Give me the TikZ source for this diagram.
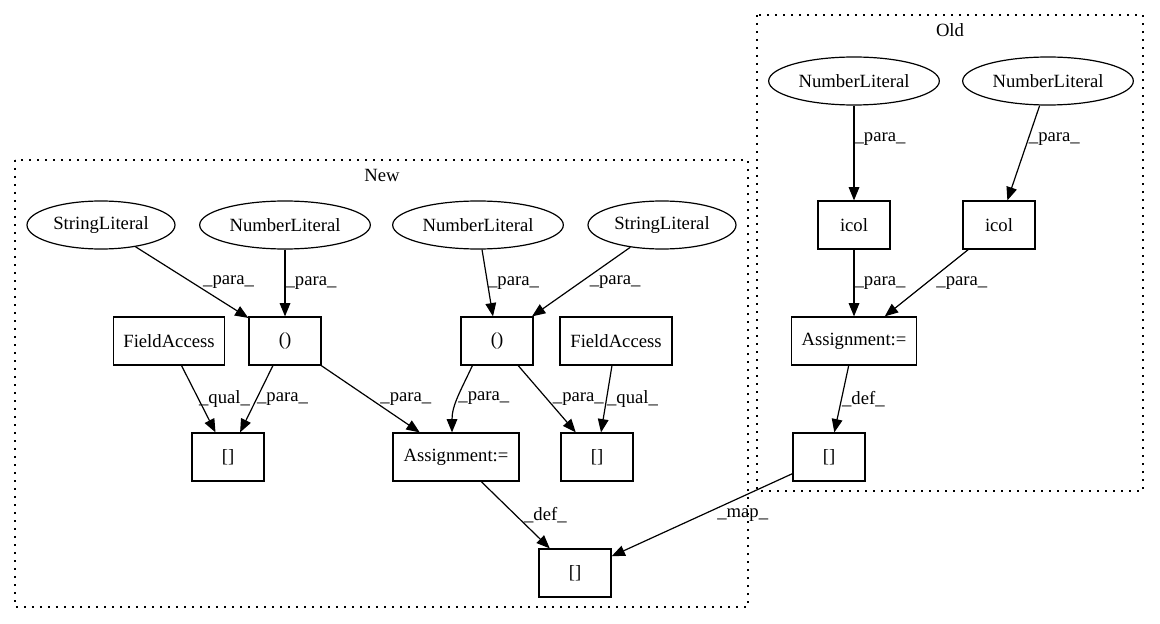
\documentclass[tikz,border=0pt]{standalone}
\usepackage{fontspec}
\setmainfont{Liberation Serif}
\usetikzlibrary{shapes.geometric,arrows.meta}

\begin{document}
\begin{tikzpicture}[x=0.75pt,y=-0.75pt,line width=0.9pt,
  font=\fontsize{14}{16}\selectfont,
  lit/.style={ellipse,draw,inner sep=0pt,minimum height=36pt},
  box/.style={rectangle,draw,inner sep=0pt,minimum height=36pt,minimum width=54pt},
  edge/.style={-{Triangle[length=10pt,width=8pt]}},
  lbl/.style={anchor=west,inner sep=0pt},
  clus/.style={dash pattern=on 1.2pt off 4.8pt}]
  \useasboundingbox (0,0) rectangle (1160,624);
  \draw[clus] (15,160) rectangle (748,607);
  \draw[clus] (757,15) rectangle (1143,491);
  \node (newlbl) at (382,175) {New};
  \node (oldlbl) at (950,30) {Old};

  \node[lit,minimum width=111pt] (sl1) at (101,225) {StringLiteral};
  \node[lit,minimum width=128pt] (nl1) at (285,225) {NumberLiteral};
  \node[lit,minimum width=128pt] (nl2) at (478,225) {NumberLiteral};
  \node[lit,minimum width=111pt] (sl2) at (662,225) {StringLiteral};
  \node[box] (call1) at (285,341) {()};
  \node[box,minimum width=83pt] (fa1) at (169,341) {FieldAccess};
  \node[box] (call2) at (497,341) {()};
  \node[box,minimum width=84pt] (fa2) at (616,341) {FieldAccess};
  \node[box] (idx1) at (228,457) {[]};
  \node[box,minimum width=94.5pt] (asgn1) at (456,457) {Assignment:=};
  \node[box] (idx2) at (597,457) {[]};
  \node[box] (idx3) at (575,573) {[]};

  \node[lit,minimum width=128pt] (nl3) at (854,81) {NumberLiteral};
  \node[lit,minimum width=128pt] (nl4) at (1048,81) {NumberLiteral};
  \node[box] (icol1) at (854,225) {icol};
  \node[box] (icol2) at (999,225) {icol};
  \node[box,minimum width=94pt] (asgn2) at (854,341) {Assignment:=};
  \node[box] (idx4) at (829,457) {[]};

  \draw[edge] (sl1) -- node[lbl,xshift=8pt] {\_para\_} (call1);
  \draw[edge] (nl1) -- node[lbl] {\_para\_} (call1);
  \draw[edge] (fa1) -- node[lbl] {\_qual\_} (idx1);
  \draw[edge] (call1) -- node[lbl] {\_para\_} (idx1);
  \draw[edge] (call1) -- node[lbl,xshift=7pt] {\_para\_} (asgn1);
  \draw[edge] (nl2) -- node[lbl] {\_para\_} (call2);
  \draw[edge] (sl2) -- node[lbl,xshift=6pt] {\_para\_} (call2);
  \draw[edge] (call2.-135) to[out=-115,in=90] node[lbl] {\_para\_} ([xshift=-3pt]asgn1.north);
  \draw[edge] (call2) -- node[lbl,xshift=4pt] {\_para\_} (idx2);
  \draw[edge] (fa2) -- node[lbl] {\_qual\_} (idx2);
  \draw[edge] (asgn1) -- node[lbl,xshift=6pt] {\_def\_} (idx3);
  \draw[edge] (idx4) -- node[lbl,xshift=11pt] {\_map\_} (idx3);
  \draw[edge] (nl3) -- node[lbl,pos=0.35] {\_para\_} (icol1);
  \draw[edge] (nl4) -- node[lbl,pos=0.35] {\_para\_} (icol2);
  \draw[edge] (icol1) -- node[lbl] {\_para\_} (asgn2);
  \draw[edge] (icol2) -- node[lbl,xshift=7pt] {\_para\_} (asgn2);
  \draw[edge] (asgn2) -- node[lbl] {\_def\_} (idx4);
\end{tikzpicture}
\end{document}
